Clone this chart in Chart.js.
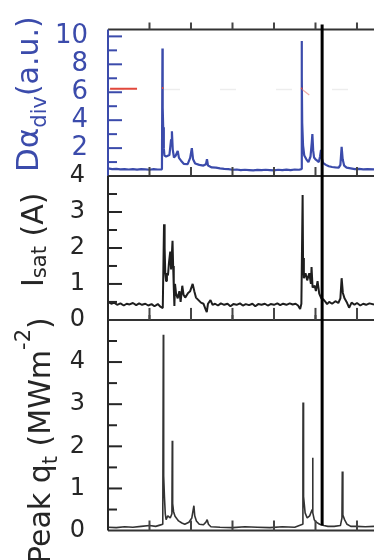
<!DOCTYPE html>
<html>
<head>
<meta charset="utf-8">
<script src="https://cdn.jsdelivr.net/npm/chart.js@4.4.1/dist/chart.umd.min.js"></script>
<style>
  html, body { margin: 0; padding: 0; background: #fff; overflow: hidden; }
  #wrap { position: relative; width: 374px; height: 560px; }
</style>
</head>
<body>
<div id="wrap"><canvas id="traces"></canvas></div>
<script>
// shared time axis, one tick per unit, right edge runs past the frame
var timeMax = 6.41;
var timeTicks = [1, 2, 3, 4, 5, 6];
var markerTime = 5.16;

// D-alpha divertor (a.u.)
var dalphaT = [0, 0.1, 0.2, 0.3, 0.4, 0.5, 0.6, 0.7, 0.8, 0.9, 1.0, 1.1, 1.2, 1.28, 1.3,
  1.312, 1.318, 1.33, 1.345, 1.36, 1.4, 1.48, 1.52, 1.54, 1.56, 1.59, 1.63, 1.68, 1.71, 1.76,
  1.83, 1.92, 1.98, 2.02, 2.05, 2.1, 2.2, 2.3, 2.36, 2.385, 2.41, 2.5, 2.6, 2.7, 2.8, 2.9,
  3.0, 3.1, 3.2, 3.3, 3.4, 3.5, 3.6, 3.7, 3.8, 3.9, 4.0, 4.1, 4.2, 4.3, 4.4, 4.5, 4.6, 4.64,
  4.655, 4.667, 4.673, 4.68, 4.7, 4.73, 4.78, 4.83, 4.88, 4.91, 4.925, 4.945, 4.965, 5.0,
  5.04, 5.08, 5.11, 5.133, 5.15, 5.18, 5.25, 5.32, 5.4, 5.48, 5.56, 5.6, 5.63, 5.655, 5.69,
  5.75, 5.85, 5.95, 6.05, 6.15, 6.25, 6.41];
var dalphaV = [0.55, 0.5, 0.52, 0.48, 0.5, 0.47, 0.5, 0.46, 0.5, 0.48, 0.45, 0.5, 0.47, 0.48, 0.5,
  9.13, 4.9, 3.5, 2.0, 1.47, 1.4, 1.5, 2.6, 3.2, 1.9, 1.33, 1.45, 1.8, 1.3, 1.1,
  0.87, 0.85, 1.3, 2.0, 1.2, 0.9, 0.8, 0.75, 0.85, 1.2, 0.75, 0.62, 0.6, 0.55, 0.52, 0.5,
  0.45, 0.47, 0.42, 0.45, 0.43, 0.4, 0.44, 0.42, 0.45, 0.43, 0.41, 0.45, 0.42, 0.46, 0.43, 0.47, 0.45, 0.48,
  0.5, 9.67, 7.1, 3.8, 2.2, 1.47, 1.2, 1.0, 1.4, 2.4, 3.0, 1.8, 1.33, 1.2,
  1.1, 1.0, 1.4, 1.87, 1.3, 0.95, 0.8, 0.7, 0.65, 0.62, 0.6, 0.8, 2.1, 1.2, 0.75,
  0.6, 0.55, 0.5, 0.52, 0.48, 0.5, 0.48];

// threshold marks on the D-alpha panel
var threshT = [0.05, 0.7, 0.71, 1.3, 1.335, 1.34, 4.655, 4.68];
var threshV = [6.25, 6.25, null, 6.3, 6.3, null, 6.3, 6.25];
var tailT = [4.68, 4.85];
var tailV = [6.2, 5.8];
var levelT = [0, timeMax];
var levelV = [6.2, 6.2];

// ion saturation current (A)
var isatT = [0, 0.08, 0.15, 0.22, 0.3, 0.38, 0.45, 0.52, 0.6, 0.68, 0.75, 0.82, 0.9, 0.97,
  1.05, 1.12, 1.2, 1.27, 1.32, 1.35, 1.365, 1.38, 1.4, 1.42, 1.445, 1.47, 1.5, 1.52, 1.555,
  1.57, 1.585, 1.6, 1.615, 1.64, 1.68, 1.72, 1.75, 1.79, 1.82, 1.86, 1.93, 1.98, 2.04, 2.08,
  2.12, 2.18, 2.24, 2.3, 2.35, 2.38, 2.41, 2.47, 2.52, 2.58, 2.65, 2.72, 2.8, 2.88, 2.95,
  3.02, 3.1, 3.18, 3.25, 3.32, 3.4, 3.48, 3.55, 3.62, 3.7, 3.78, 3.85, 3.92, 4.0, 4.08,
  4.15, 4.22, 4.3, 4.38, 4.45, 4.52, 4.58, 4.63, 4.66, 4.69, 4.7, 4.72, 4.76, 4.8, 4.85,
  4.89, 4.905, 4.93, 4.98, 5.01, 5.05, 5.09, 5.14, 5.19, 5.24, 5.28, 5.33, 5.4, 5.48, 5.55,
  5.6, 5.63, 5.66, 5.7, 5.75, 5.81, 5.87, 5.94, 6.0, 6.08, 6.15, 6.22, 6.3, 6.41];
var isatV = [0.5, 0.45, 0.48, 0.42, 0.46, 0.4, 0.45, 0.43, 0.47, 0.41, 0.46, 0.42, 0.45, 0.4,
  0.44, 0.38, 0.44, 0.36, 0.33, 2.66, 2.0, 1.3, 1.08, 1.3, 1.24, 1.6, 1.9, 1.4, 2.2,
  1.5, 0.9, 0.39, 1.0, 0.73, 0.6, 0.8, 0.5, 0.95, 0.7, 0.62, 0.75, 0.8, 1.0, 0.8,
  0.62, 0.55, 0.48, 0.45, 0.3, 0.22, 0.45, 0.55, 0.42, 0.45, 0.4, 0.46, 0.42, 0.45, 0.38,
  0.44, 0.42, 0.46, 0.4, 0.44, 0.41, 0.45, 0.38, 0.44, 0.42, 0.45, 0.4, 0.44, 0.42, 0.46,
  0.41, 0.45, 0.42, 0.46, 0.43, 0.45, 0.4, 0.3, 0.45, 3.47, 1.72, 1.16, 1.3, 1.1, 1.3,
  1.0, 1.47, 0.9, 0.95, 0.8, 1.08, 0.73, 0.6, 0.57, 0.5, 0.44, 0.5, 0.45, 0.52, 0.47,
  0.6, 1.16, 0.75, 0.6, 0.5, 0.34, 0.48, 0.42, 0.47, 0.4, 0.45, 0.42, 0.46, 0.43];

// peak target heat flux (MW m^-2)
var qT = [0, 0.2, 0.4, 0.6, 0.8, 1.0, 1.15, 1.25, 1.32, 1.333, 1.338, 1.345, 1.36, 1.38,
  1.4, 1.44, 1.5, 1.54, 1.549, 1.558, 1.58, 1.615, 1.66, 1.7, 1.78, 1.85, 1.95, 2.02, 2.07,
  2.09, 2.13, 2.2, 2.3, 2.36, 2.39, 2.42, 2.48, 2.7, 3.0, 3.3, 3.6, 3.9, 4.2, 4.5, 4.69,
  4.697, 4.7, 4.705, 4.72, 4.75, 4.8, 4.86, 4.92, 4.93, 4.94, 4.97, 5.02, 5.1, 5.2, 5.3,
  5.45, 5.6, 5.638, 5.646, 5.66, 5.7, 5.76, 5.85, 6.0, 6.2, 6.41];
var qV = [0.08, 0.07, 0.09, 0.08, 0.1, 0.12, 0.1, 0.13, 0.15, 4.65, 1.76, 1.3, 0.8, 0.4,
  0.26, 0.35, 0.3, 0.4, 2.13, 0.64, 0.45, 0.34, 0.28, 0.23, 0.18, 0.15, 0.2, 0.3, 0.59,
  0.35, 0.23, 0.15, 0.14, 0.2, 0.26, 0.15, 0.09, 0.08, 0.07, 0.09, 0.08, 0.07, 0.09, 0.08, 0.15,
  1.95, 3.04, 1.62, 0.81, 0.42, 0.3, 0.35, 0.5, 1.73, 0.42, 0.26, 0.2, 0.15, 0.12, 0.1,
  0.1, 0.12, 0.3, 1.4, 0.37, 0.26, 0.15, 0.1, 0.1, 0.09, 0.1];

var blue = '#3b4bab';
var ink = '#262626';

function pts(ts, vs) {
  return ts.map(function (t, i) { return { x: t, y: vs[i] }; });
}

function fitAxis(scale) {
  scale.width = 108;
}

function yAxis(weight, max, step, color, size, pad, labelFn) {
  return {
    type: 'linear', position: 'left', stack: 'panels', stackWeight: weight,
    min: 0, max: max,
    grid: { display: false },
    border: { display: false },
    ticks: {
      stepSize: step, autoSkip: false, includeBounds: false, padding: pad, color: color,
      font: { family: 'DejaVu Sans', size: size },
      callback: function (v) { return labelFn(v) ? String(v) : ''; }
    },
    afterFit: fitAxis
  };
}

// rotated axis title built from pieces so sub/superscripts can sit off the baseline
function drawTitle(ctx, x, y, color, parts) {
  ctx.save();
  ctx.translate(x, y);
  ctx.rotate(-Math.PI / 2);
  ctx.fillStyle = color;
  ctx.textBaseline = 'alphabetic';
  var pos = 0;
  parts.forEach(function (p) {
    ctx.font = p.size + 'px "DejaVu Sans"';
    ctx.fillText(p.text, pos, p.dy || 0);
    pos += ctx.measureText(p.text).width;
  });
  ctx.restore();
}

var panels = [
  { id: 'yD', color: blue, topOut: 7, bottomIn: 9 },
  { id: 'yI', color: ink, topOut: 0, bottomIn: 12 },
  { id: 'yQ', color: ink, topOut: 5, bottomIn: 10 }
];

var frame = {
  id: 'frame',
  afterDatasetsDraw: function (chart) {
    var ctx = chart.ctx;
    var area = chart.chartArea;
    var xs = chart.scales.x;
    ctx.save();
    ctx.lineCap = 'butt';

    panels.forEach(function (p) {
      var s = chart.scales[p.id];
      // frame: top, bottom in dark grey, left edge in panel colour
      ctx.strokeStyle = '#333';
      ctx.lineWidth = 2;
      ctx.beginPath();
      ctx.moveTo(area.left, s.top);
      ctx.lineTo(area.right, s.top);
      ctx.moveTo(area.left, s.bottom);
      ctx.lineTo(area.right, s.bottom);
      ctx.stroke();
      ctx.strokeStyle = p.color;
      ctx.beginPath();
      ctx.moveTo(area.left, s.top);
      ctx.lineTo(area.left, s.bottom);
      ctx.stroke();

      // y ticks pointing into the panel
      s.ticks.forEach(function (t) {
        if (t.value <= s.min || t.value >= s.max) return;
        var y = s.getPixelForValue(t.value);
        var len = t.label !== '' ? 14 : 9;
        ctx.beginPath();
        ctx.moveTo(area.left, y);
        ctx.lineTo(area.left + len, y);
        ctx.stroke();
      });

      // time ticks on the top and bottom edges
      ctx.strokeStyle = '#444';
      timeTicks.forEach(function (v) {
        var x = xs.getPixelForValue(v);
        ctx.beginPath();
        if (p.topOut) {
          ctx.moveTo(x, s.top);
          ctx.lineTo(x, s.top - p.topOut);
        }
        ctx.moveTo(x, s.bottom);
        ctx.lineTo(x, s.bottom - p.bottomIn);
        ctx.stroke();
      });
    });

    // event marker through all three panels
    var mx = xs.getPixelForValue(markerTime);
    ctx.strokeStyle = '#000';
    ctx.lineWidth = 3;
    ctx.beginPath();
    ctx.moveTo(mx, chart.scales.yD.top - 5);
    ctx.lineTo(mx, chart.scales.yQ.bottom - 5);
    ctx.stroke();
    ctx.restore();
  },
  afterDraw: function (chart) {
    var ctx = chart.ctx;
    drawTitle(ctx, 38, 172, blue, [
      { text: 'D\u03b1', size: 31 },
      { text: 'div', size: 21, dy: 8 },
      { text: '(a.u.)', size: 30 }
    ]);
    drawTitle(ctx, 43, 287, ink, [
      { text: 'I', size: 30 },
      { text: 'sat', size: 21, dy: 3 },
      { text: ' (A)', size: 30 }
    ]);
    drawTitle(ctx, 50, 564, ink, [
      { text: 'Peak q', size: 30 },
      { text: 't', size: 21, dy: 7 },
      { text: ' (MWm', size: 30 },
      { text: '-2', size: 21, dy: -20 },
      { text: ')', size: 30 }
    ]);
  }
};

new Chart(document.getElementById('traces'), {
  type: 'line',
  data: {
    datasets: [
      { label: 'threshold', data: pts(threshT, threshV), yAxisID: 'yD', borderColor: '#e2483c', borderWidth: 2, spanGaps: false },
      { label: 'threshold tail', data: pts(tailT, tailV), yAxisID: 'yD', borderColor: 'rgba(230,120,110,0.6)', borderWidth: 1.2 },
      { label: 'level', data: pts(levelT, levelV), yAxisID: 'yD', borderColor: '#ededed', borderWidth: 1.5, borderDash: [16, 40] },
      { label: 'D-alpha', data: pts(dalphaT, dalphaV), yAxisID: 'yD', borderColor: blue, borderWidth: 2.2 },
      { label: 'Isat', data: pts(isatT, isatV), yAxisID: 'yI', borderColor: '#1e1e1e', borderWidth: 2 },
      { label: 'Peak qt', data: pts(qT, qV), yAxisID: 'yQ', borderColor: '#333', borderWidth: 1.6 }
    ]
  },
  options: {
    responsive: true,
    maintainAspectRatio: false,
    animation: false,
    events: [],
    layout: { padding: { top: 12, bottom: 8, left: 0, right: 0 } },
    elements: {
      line: { tension: 0, borderJoinStyle: 'bevel', fill: false },
      point: { radius: 0 }
    },
    plugins: { legend: { display: false }, tooltip: { enabled: false } },
    scales: {
      x: { type: 'linear', min: 0, max: timeMax, display: false },
      // stacked left axes: last one listed ends up on top
      yQ: yAxis(227, 5, 0.5, ink, 24, 15, function (v) { return Number.isInteger(v) && v < 5; }),
      yI: yAxis(155, 4, 0.5, ink, 24, 15, function (v) { return Number.isInteger(v); }),
      yD: yAxis(158, 10.5, 1, blue, 26, 12, function (v) { return v % 2 === 0 && v > 0; })
    }
  },
  plugins: [frame]
});
</script>
</body>
</html>
